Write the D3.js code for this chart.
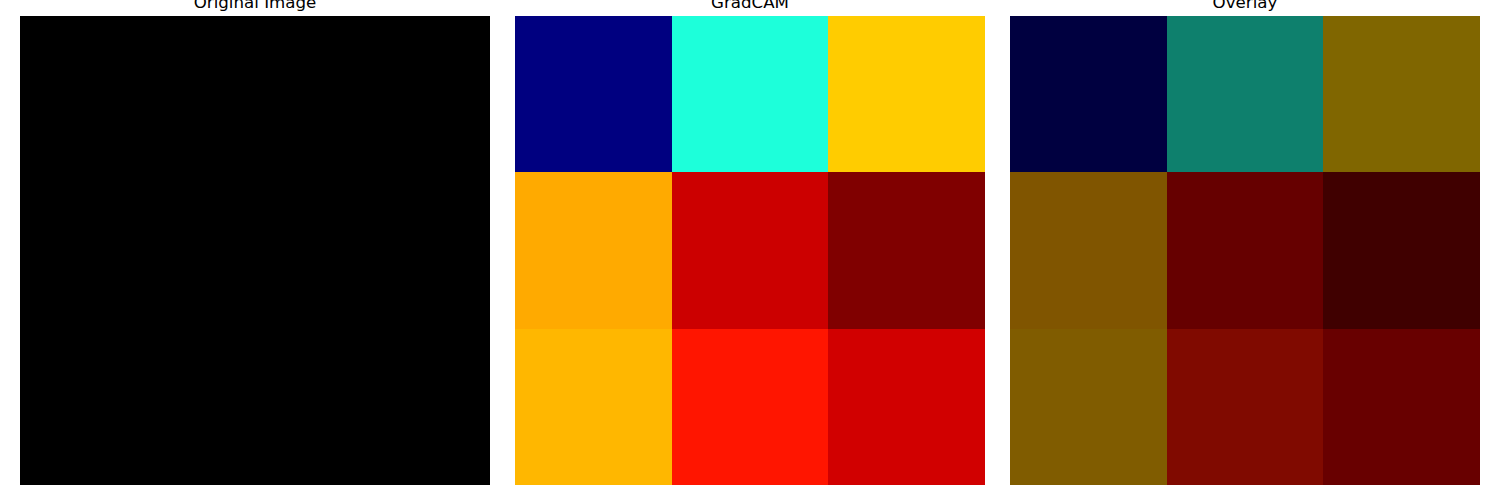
<!DOCTYPE html>
<html>
<head>
<meta charset="utf-8">
<script src="https://cdn.jsdelivr.net/npm/d3@7"></script>
<style>
  html, body { margin: 0; padding: 0; background: #ffffff; }
  svg { display: block; }
</style>
</head>
<body>
<svg id="chart" width="1500" height="500"></svg>
<script>
// ---- data ----
const panelTitles = ["Original Image", "GradCAM", "Overlay"];
const rowIdx = [0, 1, 2];
const colIdx = [0, 1, 2];
// original image intensities (all black)
const originalValues = [
  [0, 0, 0],
  [0, 0, 0],
  [0, 0, 0]
];
const camValues = [
  [0.00, 0.385, 0.694],
  [0.73, 0.934, 1.00],
  [0.716, 0.888, 0.93]
];
const overlayAlpha = 0.5;

// ---- jet colormap (matplotlib segment data) ----
const jetSeg = {
  r: [[0, 0], [0.35, 0], [0.66, 1], [0.89, 1], [1, 0.5]],
  g: [[0, 0], [0.125, 0], [0.375, 1], [0.64, 1], [0.91, 0], [1, 0]],
  b: [[0, 0.5], [0.11, 1], [0.34, 1], [0.65, 0], [1, 0]]
};
function seg(pts, v) {
  for (let i = 1; i < pts.length; i++) {
    if (v <= pts[i][0]) {
      const [x0, y0] = pts[i - 1], [x1, y1] = pts[i];
      return y0 + (y1 - y0) * (v - x0) / (x1 - x0);
    }
  }
  return pts[pts.length - 1][1];
}
function jet(v, scale = 1) {
  return d3.rgb(
    Math.round(seg(jetSeg.r, v) * 255 * scale),
    Math.round(seg(jetSeg.g, v) * 255 * scale),
    Math.round(seg(jetSeg.b, v) * 255 * scale)
  ).formatHex();
}

// ---- layout ----
const svg = d3.select("#chart");
const panelX = d3.scaleBand().domain([0, 1, 2]).range([20, 1480]).paddingInner(25 / 495).paddingOuter(0);
const panelW = panelX.bandwidth();
const panelTop = 16, panelH = 469;

const panels = [
  { title: panelTitles[0], values: originalValues, color: v => d3.rgb(v * 255, v * 255, v * 255).formatHex() },
  { title: panelTitles[1], values: camValues, color: v => jet(v) },
  { title: panelTitles[2], values: camValues, color: v => jet(v, overlayAlpha) }
];

panels.forEach((p, i) => {
  const x0 = panelX(i);
  const xs = d3.scaleBand().domain(colIdx).range([x0, x0 + panelW]);
  const ys = d3.scaleBand().domain(rowIdx).range([panelTop, panelTop + panelH]);
  const g = svg.append("g");
  const cells = [];
  rowIdx.forEach(r => colIdx.forEach(c => cells.push({ r, c, v: p.values[r][c] })));
  g.selectAll("rect").data(cells).join("rect")
    .attr("x", d => Math.round(xs(d.c)))
    .attr("y", d => Math.round(ys(d.r)))
    .attr("width", d => Math.round(xs(d.c) + xs.bandwidth()) - Math.round(xs(d.c)))
    .attr("height", d => Math.round(ys(d.r) + ys.bandwidth()) - Math.round(ys(d.r)))
    .attr("shape-rendering", "crispEdges")
    .attr("fill", d => p.color(d.v));
  svg.append("text")
    .attr("x", x0 + panelW / 2)
    .attr("y", 8)
    .attr("text-anchor", "middle")
    .attr("font-family", "DejaVu Sans")
    .attr("font-size", "16.67px")
    .attr("fill", "#000")
    .text(p.title);
});
</script>
</body>
</html>
